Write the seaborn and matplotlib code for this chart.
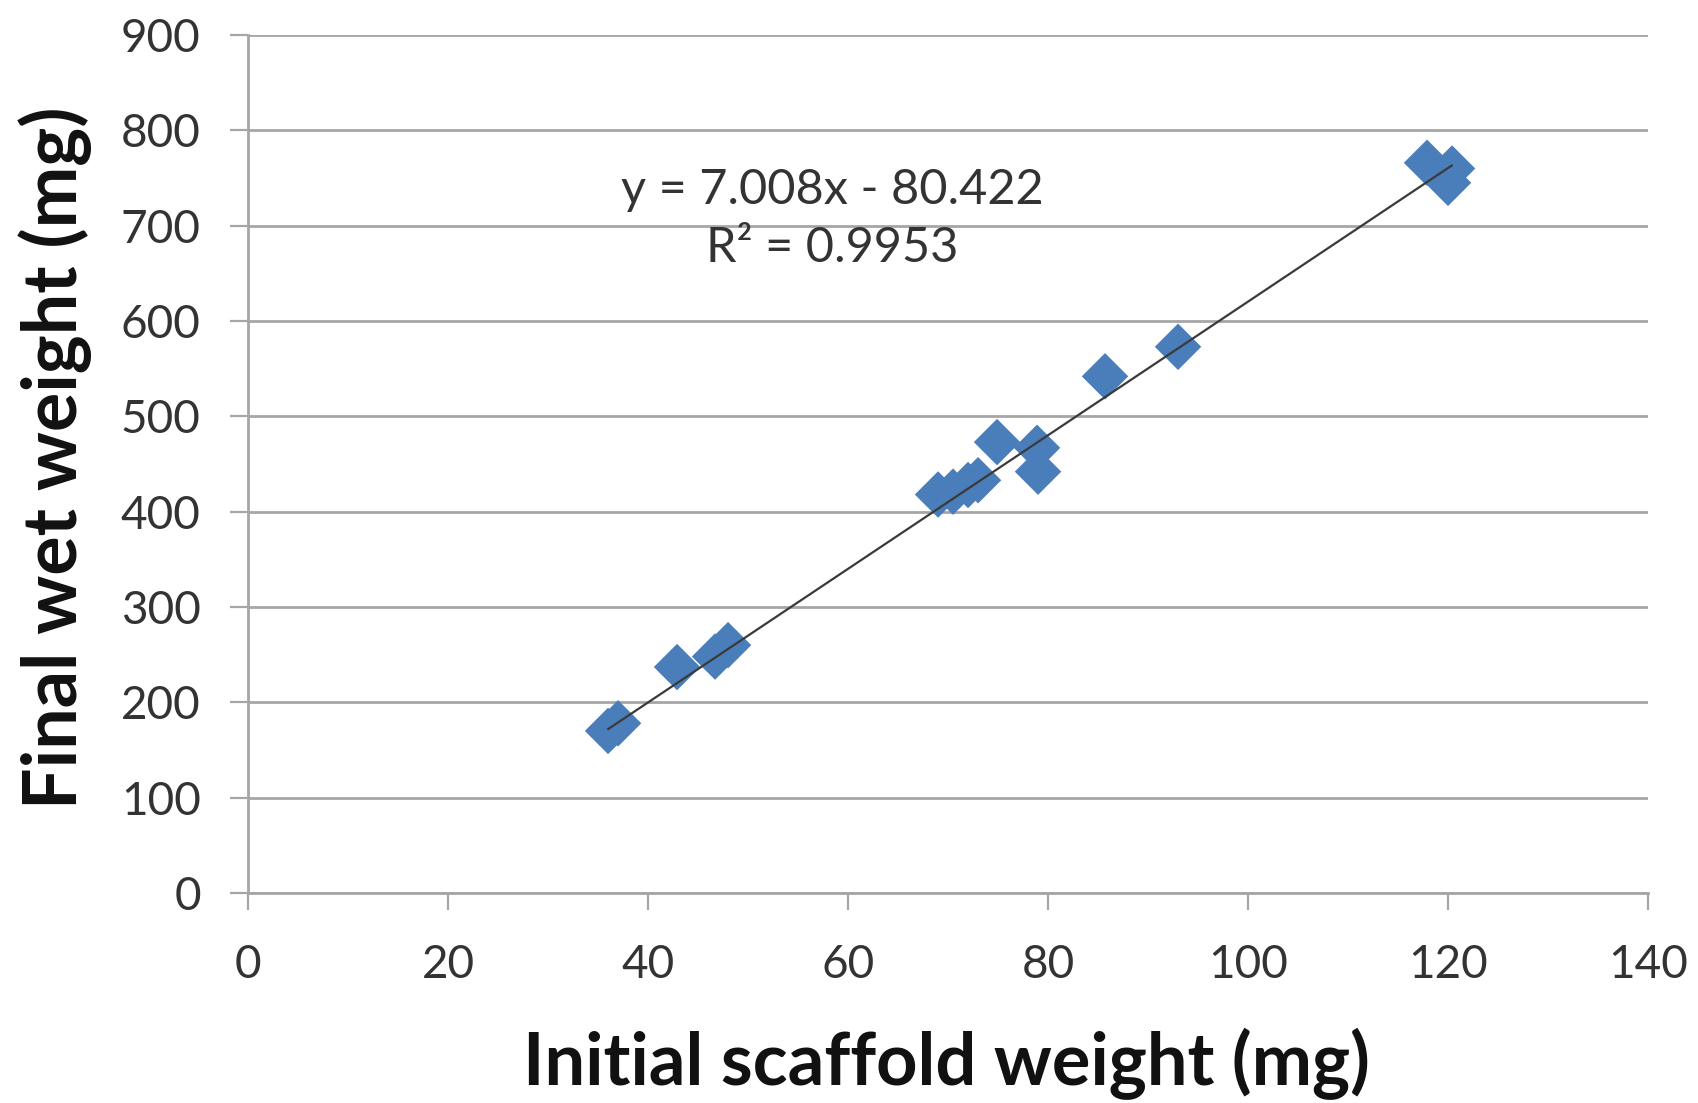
import matplotlib
matplotlib.use("Agg")
import matplotlib.pyplot as plt
import seaborn as sns
import numpy as np
import pandas as pd

# ---- data ----
initial_weight = [36.0, 37.0, 42.9, 46.7, 48.0, 69.0, 70.5, 72.0, 73.0,
                  74.9, 78.9, 79.0, 85.7, 93.0, 117.9, 120.4, 120.0]
final_weight = [170, 178, 237, 248, 260, 418, 421, 428, 433,
                473, 467, 442, 542, 573, 766, 760, 745]
fit_slope = 7.008
fit_intercept = -80.422
r_squared = 0.9953
x_ticks = [0, 20, 40, 60, 80, 100, 120, 140]
y_ticks = [0, 100, 200, 300, 400, 500, 600, 700, 800, 900]
x_label = "Initial scaffold weight (mg)"
y_label = "Final wet weight (mg)"

df = pd.DataFrame({"initial": initial_weight, "final": final_weight})

sns.set_theme(style="white")
plt.rcParams["font.family"] = ["Lato", "DejaVu Sans"]

fig = plt.figure(figsize=(16.99, 11.03), dpi=100)
ax = fig.add_axes([0.146, 0.1904, 0.824, 0.7778])

grid_col = "#A6A6A6"
sns.scatterplot(data=df, x="initial", y="final", marker="D", s=560,
                color="#4A7EBB", edgecolor="none", linewidth=0, ax=ax, zorder=3)

xfit = np.array([min(initial_weight), max(initial_weight)])
yfit = fit_slope * xfit + fit_intercept
ax.plot(xfit, yfit, color="#3A3A3A", lw=1.6, zorder=4)

ax.set_xlim(0, 140)
ax.set_ylim(0, 900)
ax.set_xticks(x_ticks)
ax.set_yticks(y_ticks)
ax.yaxis.grid(True, color=grid_col, lw=2.0)
ax.xaxis.grid(False)
ax.set_axisbelow(True)

for s in ["top", "right"]:
    ax.spines[s].set_visible(False)
for s in ["left", "bottom"]:
    ax.spines[s].set_color(grid_col)
    ax.spines[s].set_linewidth(2.0)

ax.tick_params(axis="y", direction="out", length=13, width=1.6, color=grid_col,
               pad=21, labelsize=33, labelcolor="#333333", left=True)
ax.tick_params(axis="x", direction="out", length=12, width=1.6, color=grid_col,
               pad=25, labelsize=33, labelcolor="#333333", bottom=True)

ax.set_xlabel(x_label, fontsize=52, fontweight="bold", color="#111111", va="center")
ax.set_ylabel(y_label, fontsize=53, fontweight="bold", color="#111111", va="center")
ax.xaxis.set_label_coords(0.499, -0.199)
ax.yaxis.set_label_coords(-0.1375, 0.507)

sign = "-" if fit_intercept < 0 else "+"
eq_text = f"y = {fit_slope:.3f}x {sign} {abs(fit_intercept):.3f}\nR\u00b2 = {r_squared:.4f}"
ax.text(58.4, 707, eq_text, fontsize=35, color="#333333", ha="center", va="center",
        linespacing=1.4, zorder=5)

fig.savefig("out.png", dpi=100, facecolor="white")
